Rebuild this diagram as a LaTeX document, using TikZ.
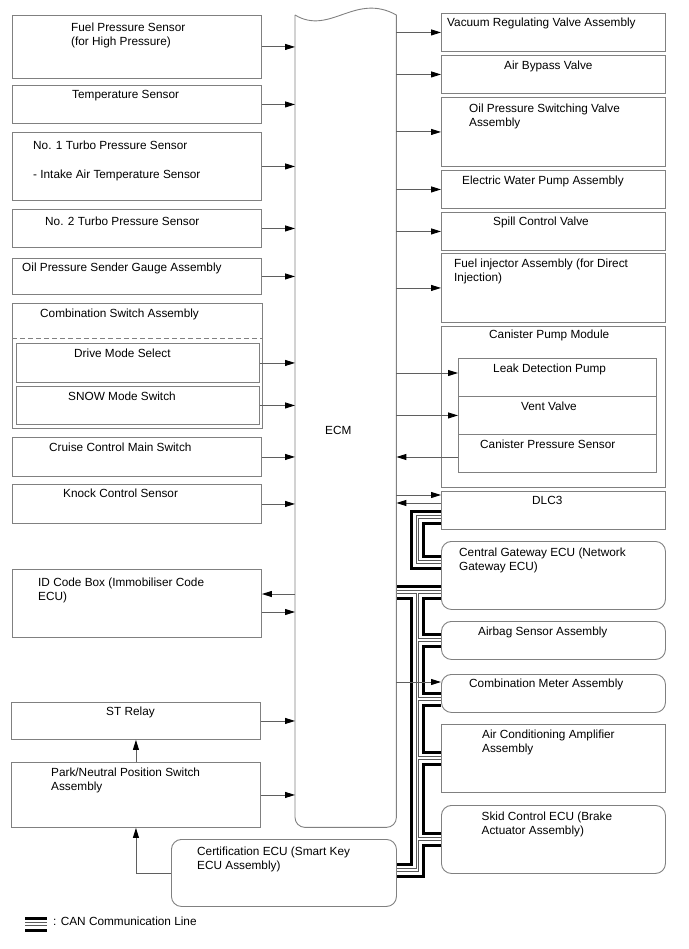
\documentclass[tikz,border=0pt]{standalone}
\usepackage{fontspec}
\setmainfont{Liberation Sans}
\usetikzlibrary{arrows.meta,backgrounds}
\definecolor{boxgray}{RGB}{128,128,128}
\definecolor{wiregray}{RGB}{95,95,95}

\begin{document}
\begin{tikzpicture}[
    x=1pt, y=-1pt,
    outline/.style={draw=boxgray, line width=0.9pt},
    blk/.style={rectangle, outline, anchor=north west, inner sep=0pt},
    ecu/.style={blk, rounded corners=10pt},
    txt/.style={anchor=north west, inner sep=0pt, align=left, font=\fontsize{11.8}{14}\selectfont},
    arrow/.style={draw=wiregray, line width=0.9pt, -{Triangle[length=10pt,width=6pt,color=black]}},
    can/.style={draw=white, line width=1.6pt, line join=miter,
        preaction={draw=black, line width=15pt, line join=miter},
        preaction={draw=white, line width=9pt, line join=miter},
        preaction={draw=black!65, line width=3.6pt, line join=miter}}
]
\useasboundingbox (0,0) rectangle (688,949);

% ECM
\node[anchor=north west, minimum width=101pt, minimum height=812pt, inner sep=0pt] (ecm) at (295,15) {};
\draw[outline, rounded corners=10pt] (ecm.north east) -- (ecm.south east) -- (ecm.south west) -- (ecm.north west);
\draw[outline] (ecm.north west) .. controls (330,36) and (355,-8) .. (ecm.north east);
\node[txt] (ecmt) at (325,426.5) {ECM};

% Inputs (left)
\node[blk, minimum width=249pt, minimum height=63pt] (fps) at (12,15) {};
\node[txt] (fpst) at (71,22.5) {Fuel Pressure Sensor\\(for High Pressure)};
\node[blk, minimum width=249pt, minimum height=38pt] (tmp) at (12,85) {};
\node[txt] (tmpt) at (72,90.5) {Temperature Sensor};
\node[blk, minimum width=249pt, minimum height=68pt] (tp1) at (12,132) {};
\node[txt] (tp1t) at (33,141) {No. 1 Turbo Pressure Sensor\\[15pt]- Intake Air Temperature Sensor};
\node[blk, minimum width=249pt, minimum height=38pt] (tp2) at (12,209) {};
\node[txt] (tp2t) at (45,217) {No. 2 Turbo Pressure Sensor};
\node[blk, minimum width=249pt, minimum height=36pt] (ops) at (12,258) {};
\node[txt] (opst) at (22,262.5) {Oil Pressure Sender Gauge Assembly};
\node[blk, minimum width=250pt, minimum height=125pt] (csw) at (12,303) {};
\node[txt] (cswt) at (40,309) {Combination Switch Assembly};
\draw[outline, dash pattern=on 5pt off 3pt] (csw.west |- 0,338) -- (csw.east |- 0,338);
\node[blk, minimum width=243pt, minimum height=39pt] (dms) at (16,343) {};
\node[txt] (dmst) at (74,349) {Drive Mode Select};
\node[blk, minimum width=243pt, minimum height=38pt] (snw) at (16,386) {};
\node[txt] (snwt) at (68,391.5) {SNOW Mode Switch};
\node[blk, minimum width=249pt, minimum height=39pt] (ccs) at (12,437) {};
\node[txt] (ccst) at (49,443) {Cruise Control Main Switch};
\node[blk, minimum width=249pt, minimum height=39pt] (kcs) at (12,484) {};
\node[txt] (kcst) at (63,489) {Knock Control Sensor};
\node[blk, minimum width=249pt, minimum height=68pt] (idc) at (12,569) {};
\node[txt] (idct) at (38,578) {ID Code Box (Immobiliser Code\\ECU)};
\node[blk, minimum width=249pt, minimum height=37pt] (st) at (11,702) {};
\node[txt] (stt) at (106,706.5) {ST Relay};
\node[blk, minimum width=249pt, minimum height=65pt] (pnp) at (11,762) {};
\node[txt] (pnpt) at (51,768) {Park/Neutral Position Switch\\Assembly};
\node[ecu, minimum width=225pt, minimum height=67pt] (cert) at (171,839) {};
\node[txt] (certt) at (197,847) {Certification ECU (Smart Key\\ECU Assembly)};

% Outputs (right)
\node[blk, minimum width=224pt, minimum height=38pt] (vrv) at (441,13) {};
\node[txt] (vrvt) at (447,18) {Vacuum Regulating Valve Assembly};
\node[blk, minimum width=224pt, minimum height=38pt] (abv) at (441,55) {};
\node[txt] (abvt) at (504,61) {Air Bypass Valve};
\node[blk, minimum width=224pt, minimum height=69pt] (ocv) at (441,97) {};
\node[txt] (ocvt) at (469,104) {Oil Pressure Switching Valve\\Assembly};
\node[blk, minimum width=224pt, minimum height=38pt] (ewp) at (441,170) {};
\node[txt] (ewpt) at (462,175.5) {Electric Water Pump Assembly};
\node[blk, minimum width=224pt, minimum height=38pt] (scv) at (441,212) {};
\node[txt] (scvt) at (493,217) {Spill Control Valve};
\node[blk, minimum width=224pt, minimum height=69pt] (inj) at (441,253) {};
\node[txt] (injt) at (454,259) {Fuel injector Assembly (for Direct\\Injection)};
\node[blk, minimum width=224pt, minimum height=161pt] (cpm) at (441,326) {};
\node[txt] (cpmt) at (489,330) {Canister Pump Module};
\node[blk, minimum width=198pt, minimum height=38pt] (leak) at (458,358) {};
\node[txt] (leakt) at (493,364) {Leak Detection Pump};
\node[blk, minimum width=198pt, minimum height=38pt] (vent) at (458,396) {};
\node[txt] (ventt) at (521,402) {Vent Valve};
\node[blk, minimum width=198pt, minimum height=38pt] (cps) at (458,434) {};
\node[txt] (cpst) at (480,440) {Canister Pressure Sensor};
\node[blk, minimum width=224pt, minimum height=38pt] (dlc) at (441,491) {};
\node[txt] (dlct) at (532,496.5) {DLC3};
\node[ecu, minimum width=224pt, minimum height=68pt] (gw) at (441,541) {};
\node[txt] (gwt) at (459,547.5) {Central Gateway ECU (Network\\Gateway ECU)};
\node[ecu, minimum width=224pt, minimum height=38pt] (air) at (441,621) {};
\node[txt] (airt) at (478,627) {Airbag Sensor Assembly};
\node[ecu, minimum width=224pt, minimum height=38pt] (meter) at (441,674) {};
\node[txt] (metert) at (469,679) {Combination Meter Assembly};
\node[blk, minimum width=224pt, minimum height=68pt] (ac) at (441,724) {};
\node[txt] (act) at (482,730) {Air Conditioning Amplifier\\Assembly};
\node[ecu, minimum width=224pt, minimum height=68pt] (skid) at (441,805) {};
\node[txt] (skidt) at (481.5,811.5) {Skid Control ECU (Brake\\Actuator Assembly)};

% Legend
\coordinate (leg) at (25,924);
\node[txt] (legt) at (53,917) {: CAN Communication Line};
\draw[can] (leg) -- ++(22,0);

% Signal lines
\draw[arrow] (fps) -- (fps -| ecm.west);
\draw[arrow] (tmp) -- (tmp -| ecm.west);
\draw[arrow] (tp1) -- (tp1 -| ecm.west);
\draw[arrow] (tp2) -- (tp2 -| ecm.west);
\draw[arrow] (ops) -- (ops -| ecm.west);
\draw[arrow] (dms) -- (dms -| ecm.west);
\draw[arrow] (snw) -- (snw -| ecm.west);
\draw[arrow] (ccs) -- (ccs -| ecm.west);
\draw[arrow] (kcs) -- (kcs -| ecm.west);
\draw[arrow] (ecm.west |- 0,594) -- (idc.east |- 0,594);
\draw[arrow] (idc.east |- 0,612) -- (ecm.west |- 0,612);
\draw[arrow] (st) -- (st -| ecm.west);
\draw[arrow] (pnp) -- (pnp -| ecm.west);
\draw[arrow] (pnp) -- (st);
\draw[arrow] (cert.west) -| (pnp);

\draw[arrow] (vrv -| ecm.east) -- (vrv);
\draw[arrow] (abv -| ecm.east) -- (abv);
\draw[arrow] (ocv -| ecm.east) -- (ocv);
\draw[arrow] (ewp -| ecm.east) -- (ewp);
\draw[arrow] (scv -| ecm.east) -- (scv);
\draw[arrow] (inj -| ecm.east) -- (inj);
\draw[arrow] (ecm.east |- 0,373) -- (leak.west |- 0,373);
\draw[arrow] (vent -| ecm.east) -- (vent);
\draw[arrow] (cps.west |- 0,457) -- (ecm.east |- 0,457);
\draw[arrow] (ecm.east |- 0,495) -- (dlc.west |- 0,495);
\draw[arrow] (dlc.west |- 0,503) -- (ecm.east |- 0,503);
\draw[arrow] (ecm.east |- 0,682) -- (meter.west |- 0,682);

% CAN bus
\coordinate (bus) at (417.5,592);
\begin{scope}[on background layer]
\draw[can] (dlc.west |- 0,517) -| (bus |- 0,562) -- (gw.west |- 0,562)
    (ecm.east |- bus) -- (gw.west |- bus)
    (bus) |- (cert.east |- 0,870)
    (bus |- 0,640) -- (air.west |- 0,640)
    (bus |- 0,699) -- (meter.west |- 0,699)
    (bus |- 0,758) -- (ac.west |- 0,758)
    (bus |- 0,839) -- (skid.west |- 0,839);
\end{scope}

\end{tikzpicture}
\end{document}
